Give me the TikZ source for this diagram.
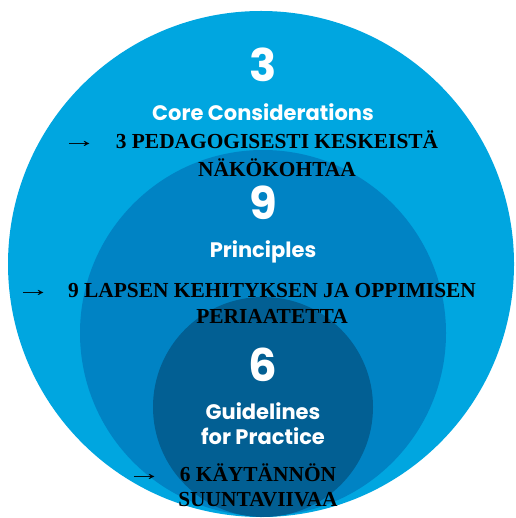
\documentclass[tikz,border=0pt]{standalone}
\usepackage{fontspec}
\setmainfont{Liberation Serif}
\newfontfamily\pop{Poppins}
\definecolor{outerblue}{HTML}{00A6E0}
\definecolor{midblue}{HTML}{0083C4}
\definecolor{innerblue}{HTML}{025F93}
\tikzset{
  bignum/.style={text=white, font=\pop\bfseries\fontsize{45}{45}\selectfont, anchor=base, inner sep=0pt},
  whitelab/.style={text=white, font=\pop\bfseries\fontsize{21}{21}\selectfont, anchor=base, inner sep=0pt},
  fitext/.style={text=black, font=\bfseries\fontsize{21.4}{21.4}\selectfont, anchor=base, inner sep=0pt},
  arrowtxt/.style={text=black, font=\fontsize{21.4}{21.4}\selectfont, anchor=base west, inner sep=0pt}
}
\newcommand{\longarr}{\scalebox{1.6}[1]{→}}
\begin{document}
\begin{tikzpicture}[x=1pt,y=-1pt]
\useasboundingbox (0,0) rectangle (515,518);
\fill[outerblue] (261,264) circle[radius=253pt];
\fill[midblue] (263,333) circle[radius=183pt];
\fill[innerblue] (263,407) circle[radius=110pt];

\node[bignum] (n3) at (263,82) {3};
\node[whitelab] (core) at (263,121) {Core Considerations};
\node[bignum] (n9) at (263,219) {9};
\node[whitelab] (princ) at (263,257) {Principles};
\node[bignum] (n6) at (263,381) {6};
\node[whitelab] (guide) at (263,419) {Guidelines};
\node[whitelab] (forp) at (263,444) {for Practice};

\node[arrowtxt] (a1) at (62,148) {\longarr};
\node[fitext] (t1a) at (277,149) {3 PEDAGOGISESTI KESKEISTÄ};
\node[fitext] (t1b) at (277,177) {NÄKÖKOHTAA};
\node[arrowtxt] (a2) at (16,296) {\longarr};
\node[fitext] (t2a) at (272,297) {9 LAPSEN KEHITYKSEN JA OPPIMISEN};
\node[fitext] (t2b) at (272,323) {PERIAATETTA};
\node[arrowtxt] (a3) at (127,480) {\longarr};
\node[fitext] (t3a) at (258,481) {6 KÄYTÄNNÖN};
\node[fitext] (t3b) at (258,506) {SUUNTAVIIVAA};
\end{tikzpicture}
\end{document}
